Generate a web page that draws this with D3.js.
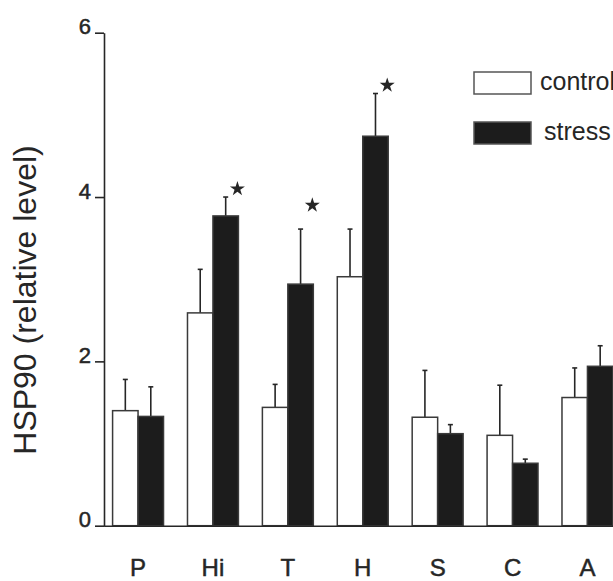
<!DOCTYPE html>
<html>
<head>
<meta charset="utf-8">
<script src="https://cdn.jsdelivr.net/npm/d3@7"></script>
<style>
  html, body { margin: 0; padding: 0; background: #fff; }
  svg { display: block; font-family: "Liberation Sans", Arial, sans-serif; }
</style>
</head>
<body>
<div id="chart"></div>
<script>
const categories = ['P', 'Hi', 'T', 'H', 'S', 'C', 'A'];
const seriesNames = ['control', 'stress'];
const controlValues = [1.40, 2.59, 1.44, 3.03, 1.32, 1.10, 1.56];
const controlErrors = [0.38, 0.53, 0.28, 0.58, 0.57, 0.61, 0.36];
const stressValues = [1.33, 3.77, 2.94, 4.74, 1.12, 0.76, 1.94];
const stressErrors = [0.36, 0.23, 0.67, 0.52, 0.11, 0.05, 0.25];
const starCategories = ['Hi', 'T', 'H'];
const starValues = [4.10, 3.90, 5.36];
const yTicks = [0, 2, 4, 6];

const width = 613;
const height = 581;
const ink = '#262626';

const svg = d3.select('#chart')
    .append('svg')
    .attr('width', width)
    .attr('height', height);

const x = d3.scaleBand()
    .domain(categories)
    .range([103.6, 621.9])
    .paddingInner(0.32)
    .paddingOuter(0.12);

const xSeries = d3.scaleBand()
    .domain(seriesNames)
    .range([0, x.bandwidth()]);

const y = d3.scaleLinear()
    .domain([0, 6])
    .range([525.7, 32.7]);

// one row per bar
const rows = [];
categories.forEach(function(c, i) {
    rows.push({ cat: c, series: 'control', value: controlValues[i], err: controlErrors[i] });
    rows.push({ cat: c, series: 'stress', value: stressValues[i], err: stressErrors[i] });
});

const barCenter = d => x(d.cat) + xSeries(d.series) + xSeries.bandwidth() / 2;

// error bars
const errG = svg.append('g')
    .attr('stroke', ink)
    .attr('stroke-width', 1.6);

errG.selectAll('line.stem')
    .data(rows)
    .enter()
    .append('line')
    .attr('class', 'stem')
    .attr('x1', barCenter)
    .attr('x2', barCenter)
    .attr('y1', d => y(d.value))
    .attr('y2', d => y(d.value + d.err));

errG.selectAll('line.cap')
    .data(rows)
    .enter()
    .append('line')
    .attr('class', 'cap')
    .attr('x1', d => barCenter(d) - 2.5)
    .attr('x2', d => barCenter(d) + 2.5)
    .attr('y1', d => y(d.value + d.err))
    .attr('y2', d => y(d.value + d.err));

// bars
svg.append('g')
    .selectAll('rect')
    .data(rows)
    .enter()
    .append('rect')
    .attr('x', d => x(d.cat) + xSeries(d.series))
    .attr('y', d => y(d.value))
    .attr('width', xSeries.bandwidth())
    .attr('height', d => y(0) - y(d.value))
    .attr('fill', d => d.series === 'control' ? '#fff' : '#1c1c1c')
    .attr('stroke', '#3a3a3a')
    .attr('stroke-width', 1.5);

// significance stars
svg.append('g')
    .selectAll('path')
    .data(starCategories.map((c, i) => ({ cat: c, value: starValues[i] })))
    .enter()
    .append('path')
    .attr('d', d3.symbol(d3.symbolStar).size(70))
    .attr('transform', d => `translate(${x(d.cat) + xSeries('stress') + xSeries.bandwidth() - 1},${y(d.value)})`)
    .attr('fill', ink);

// y axis
const yAxis = svg.append('g')
    .attr('transform', `translate(${x.range()[0] + 0.4},0)`)
    .call(d3.axisLeft(y)
        .tickValues(yTicks)
        .tickSize(9)
        .tickSizeOuter(0)
        .tickPadding(4)
        .tickFormat(d3.format('d')));

yAxis.select('.domain').attr('stroke', ink).attr('stroke-width', 1.6);
yAxis.selectAll('.tick line').attr('stroke', ink).attr('stroke-width', 1.6);
yAxis.selectAll('.tick text')
    .attr('fill', ink)
    .attr('stroke', ink)
    .attr('stroke-width', 0.5)
    .attr('dy', '0.05em')
    .style('font-size', '22px');

// x axis
const xAxis = svg.append('g')
    .attr('transform', `translate(0,${y(0)})`)
    .call(d3.axisBottom(x)
        .tickSize(0)
        .tickSizeOuter(0)
        .tickPadding(33));

xAxis.select('.domain').attr('stroke', ink).attr('stroke-width', 1.6);
xAxis.selectAll('.tick text')
    .attr('fill', ink)
    .attr('stroke', ink)
    .attr('stroke-width', 0.5)
    .style('font-size', '24px');

// y title
svg.append('text')
    .attr('transform', 'translate(36,300) rotate(-90)')
    .attr('text-anchor', 'middle')
    .attr('fill', ink)
    .style('font-size', '32px')
    .text('HSP90 (relative level)');

// legend
const legend = svg.append('g')
    .selectAll('g')
    .data(seriesNames)
    .enter()
    .append('g')
    .attr('transform', (d, i) => `translate(474,${72 + i * 50})`);

legend.append('rect')
    .attr('width', 57)
    .attr('height', 22)
    .attr('fill', d => d === 'control' ? '#fff' : '#1c1c1c')
    .attr('stroke', '#555')
    .attr('stroke-width', 1.5);

legend.append('text')
    .attr('x', d => d === 'control' ? 66 : 70)
    .attr('y', 18)
    .attr('fill', ink)
    .style('font-size', '25px')
    .text(d => d);
</script>
</body>
</html>
